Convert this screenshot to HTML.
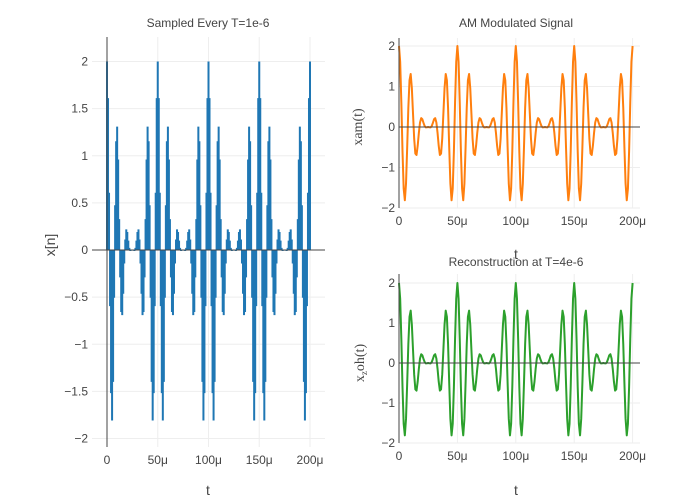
<!DOCTYPE html>
<html><head><meta charset="utf-8"><style>
body{margin:0;background:#fff;}
svg{display:block;font-family:"Liberation Sans","DejaVu Sans",sans-serif;}
</style></head><body>
<svg id="c" width="700" height="500" viewBox="0 0 700 500"></svg>
<script>
const xTicks = [0, 50, 100, 150, 200];
const xTickLabels = ["0", "50μ", "100μ", "150μ", "200μ"];
const leftYTicks = [-2, -1.5, -1, -0.5, 0, 0.5, 1, 1.5, 2];
const leftYTickLabels = ["−2", "−1.5", "−1", "−0.5", "0", "0.5", "1", "1.5", "2"];
const rightYTicks = [-2, -1, 0, 1, 2];
const rightYTickLabels = ["−2", "−1", "0", "1", "2"];
// time in microseconds, samples every 1μs
const sampleValues = [
2,1.612,0.608,-0.596,-1.518,-1.809,-1.399,-0.506,0.475,1.154,1.309,0.960,0.328,-0.290,-0.658,-0.691,-0.464,-0.143,0.112,0.219,0.191,0.100,0.022,-0.010,-0.006,0,-0.006,-0.010,0.022,0.100,0.191,0.219,0.112,-0.143,-0.464,-0.691,-0.658,-0.290,0.328,0.960,1.309,1.154,0.475,-0.506,-1.399,-1.809,-1.518,-0.596,0.608,1.612,
2,1.612,0.608,-0.596,-1.518,-1.809,-1.399,-0.506,0.475,1.154,1.309,0.960,0.328,-0.290,-0.658,-0.691,-0.464,-0.143,0.112,0.219,0.191,0.100,0.022,-0.010,-0.006,0,-0.006,-0.010,0.022,0.100,0.191,0.219,0.112,-0.143,-0.464,-0.691,-0.658,-0.290,0.328,0.960,1.309,1.154,0.475,-0.506,-1.399,-1.809,-1.518,-0.596,0.608,1.612,
2,1.612,0.608,-0.596,-1.518,-1.809,-1.399,-0.506,0.475,1.154,1.309,0.960,0.328,-0.290,-0.658,-0.691,-0.464,-0.143,0.112,0.219,0.191,0.100,0.022,-0.010,-0.006,0,-0.006,-0.010,0.022,0.100,0.191,0.219,0.112,-0.143,-0.464,-0.691,-0.658,-0.290,0.328,0.960,1.309,1.154,0.475,-0.506,-1.399,-1.809,-1.518,-0.596,0.608,1.612,
2,1.612,0.608,-0.596,-1.518,-1.809,-1.399,-0.506,0.475,1.154,1.309,0.960,0.328,-0.290,-0.658,-0.691,-0.464,-0.143,0.112,0.219,0.191,0.100,0.022,-0.010,-0.006,0,-0.006,-0.010,0.022,0.100,0.191,0.219,0.112,-0.143,-0.464,-0.691,-0.658,-0.290,0.328,0.960,1.309,1.154,0.475,-0.506,-1.399,-1.809,-1.518,-0.596,0.608,1.612,
2];
const amValues = sampleValues;
const reconValues = sampleValues;

const NS = "http://www.w3.org/2000/svg";
const svg = document.getElementById("c");
function mk(tag, attrs, parent, text){
  const e = document.createElementNS(NS, tag);
  for (const k in attrs) e.setAttribute(k, attrs[k]);
  if (text !== undefined) e.textContent = text;
  (parent || svg).appendChild(e);
  return e;
}
function panel(p){
  const g = mk("g", {});
  
  
  const xs = t => p.x0 + t * p.xk;
  const ys = v => p.y0 - v * p.yk;
  xTicks.forEach((t, i) => {
    if (t !== 0) {
      const l = mk("line", {x1: xs(t), x2: xs(t), y1: p.top, y2: p.bot, stroke: "#eee", "stroke-width": 1}, g);
      
      
    }
    const tl = mk("text", {x: xs(t), y: p.bot + 17, "text-anchor": "middle", "font-size": 12, fill: "#444"}, g, xTickLabels[i]);
    
    
  });
  p.yTicks.forEach((v, i) => {
    if (v !== 0) {
      const l = mk("line", {x1: p.left, x2: p.right, y1: ys(v), y2: ys(v), stroke: "#eee", "stroke-width": 1}, g);
      
      
    }
    const tl = mk("text", {x: p.left - 4, y: ys(v) + 4, "text-anchor": "end", "font-size": 12, fill: "#444"}, g, p.yLabels[i]);
    
    
  });
  if (p.stem) {
    let d = "";
    p.data.forEach((v, i) => { d += "M" + xs(i).toFixed(2) + "," + ys(0).toFixed(2) + "V" + ys(v).toFixed(2); });
    const pth = mk("path", {d: d, fill: "none", stroke: p.color, "stroke-width": 2}, g);
    
    
  } else {
    const pts = p.data.map((v, i) => xs(i).toFixed(2) + "," + ys(v).toFixed(2)).join(" ");
    const pl = mk("polyline", {points: pts, fill: "none", stroke: p.color, "stroke-width": 2, "stroke-linejoin": "round"}, g);
    
    
  }
  const zx = mk("line", {x1: p.left, x2: p.right, y1: ys(0), y2: ys(0), stroke: "#444", "stroke-width": 1}, g);
  
  
  const zy = mk("line", {x1: xs(0), x2: xs(0), y1: p.top, y2: p.bot, stroke: "#444", "stroke-width": 1}, g);
  
  
  const tt = mk("text", {x: p.titleX, y: p.titleY, "text-anchor": "middle", "font-size": 12, fill: "#444"}, g, p.title);
  
  
  const xt = mk("text", {x: p.titleX, y: p.xTitleY, "text-anchor": "middle", "font-size": 14, fill: "#444"}, g, "t");
  
  
  return {g, ys};
}
panel({name: "sampled-panel", traceName: "sampled-signal-stems", stem: true, x0: 107, xk: 1.015, y0: 250, yk: 94.25,
  left: 92, right: 325, top: 37, bot: 447, yTicks: leftYTicks, yLabels: leftYTickLabels, data: sampleValues,
  color: "#1f77b4", title: "Sampled Every T=1e-6", titleX: 208, titleY: 27, xTitleY: 495});
panel({name: "am-panel", traceName: "am-signal-line", x0: 399, xk: 1.168, y0: 127, yk: 40.5,
  left: 399, right: 640, top: 38, bot: 208, yTicks: rightYTicks, yLabels: rightYTickLabels, data: amValues,
  color: "#ff7f0e", title: "AM Modulated Signal", titleX: 516, titleY: 27, xTitleY: 259});
panel({name: "reconstruction-panel", traceName: "reconstruction-line", x0: 399, xk: 1.168, y0: 363, yk: 40,
  left: 399, right: 640, top: 274, bot: 443, yTicks: rightYTicks, yLabels: rightYTickLabels, data: reconValues,
  color: "#2ca02c", title: "Reconstruction at T=4e-6", titleX: 516, titleY: 266, xTitleY: 495});

const y1 = mk("text", {x: 0, y: 0, transform: "translate(55,245) rotate(-90)", "text-anchor": "middle", "font-size": 14, fill: "#444"}, svg, "x[n]");


const y2 = mk("text", {x: 0, y: 0, transform: "translate(362,127) rotate(-90)", "text-anchor": "middle", "font-size": 14, fill: "#444", "font-family": "Liberation Serif, serif"}, svg, "xam(t)");


const y3 = mk("text", {x: 0, y: 0, transform: "translate(364,363) rotate(-90)", "text-anchor": "middle", "font-size": 14, fill: "#444", "font-family": "Liberation Serif, serif"}, svg);


mk("tspan", {}, y3, "x");
mk("tspan", {"font-size": 9, dy: 3}, y3, "z");
mk("tspan", {dy: -3}, y3, "oh(t)");
</script>
</body></html>
